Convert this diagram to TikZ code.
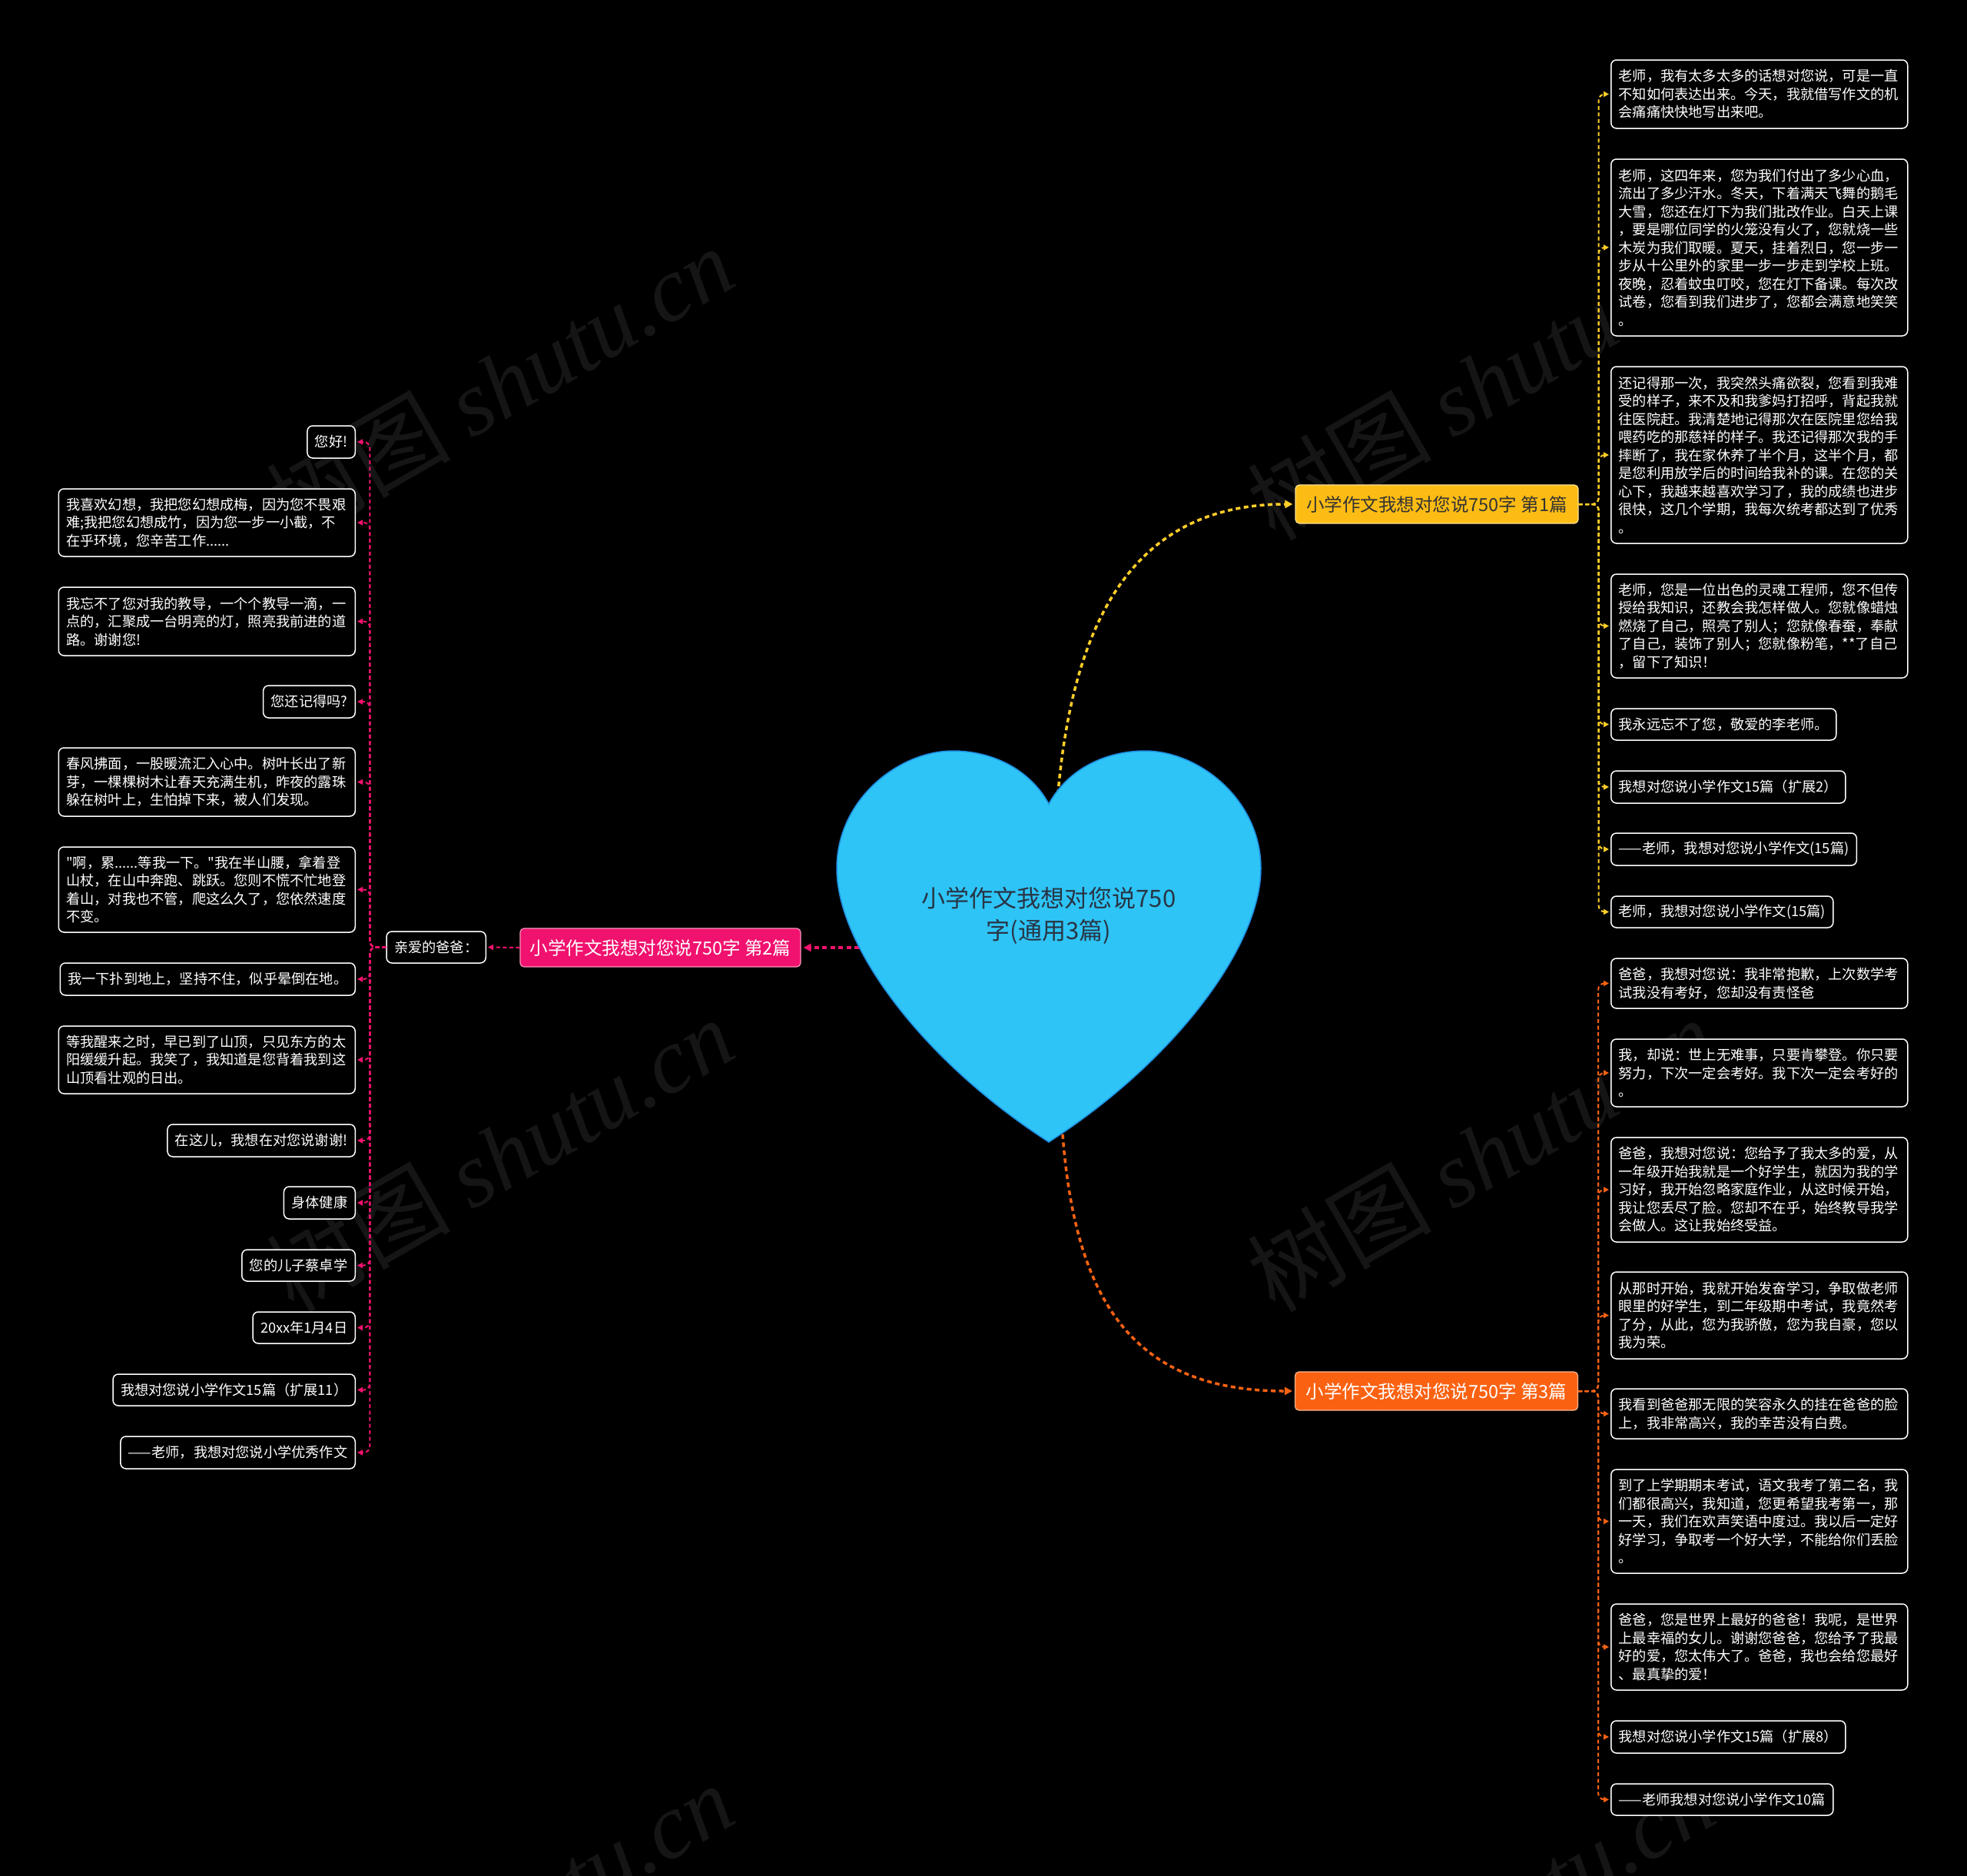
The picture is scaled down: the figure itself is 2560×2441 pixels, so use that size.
\documentclass[tikz,border=0pt]{standalone}
\usepackage{fontspec}
\setmainfont{Noto Sans CJK SC}
\newfontfamily\qf{Noto Sans CJK SC}
\newfontfamily\wmlatin{Liberation Serif}
\usetikzlibrary{arrows.meta}
\definecolor{yfill}{RGB}{252,188,20}
\definecolor{yline}{RGB}{255,206,40}
\definecolor{pk}{RGB}{240,18,110}
\definecolor{orng}{RGB}{250,98,18}
\definecolor{heartfill}{RGB}{46,196,246}
\definecolor{heartline}{RGB}{30,140,225}
\definecolor{hearttext}{RGB}{40,52,68}
\definecolor{wmgray}{RGB}{21,21,21}
\begin{document}
\begin{tikzpicture}[x=1pt,y=-1pt,
  leaf/.style={draw=white, line width=1.5pt, fill=black, rounded corners=7pt, text=white,
    font=\fontsize{18.2}{23.5}\selectfont, inner xsep=10pt, inner ysep=2pt, align=left},
  wide/.style={text width=366pt},
  branch/.style={rounded corners=5pt, minimum height=50pt, minimum width=368pt, inner sep=0pt,
    font=\fontsize{23.5}{28}\selectfont, line width=1.2pt},
  conn/.style={line width=2pt, dash pattern=on 5pt off 3.5pt, rounded corners=8pt,
    -{Triangle[length=7pt,width=7pt]}, shorten >=2pt},
  mainconn/.style={line width=3.5pt, dash pattern=on 6pt off 4.5pt,
    -{Triangle[length=10pt,width=10pt]}, shorten >=3pt},
  wm/.style={rotate=30, text=wmgray, font=\fontsize{120}{120}\selectfont, inner sep=0pt}
]
\fill[black] (0,0) rectangle (2560,2441);
\useasboundingbox (0,0) rectangle (2560,2441);

% watermarks
\node[wm] (wm1) at (650,498) {树图 {\wmlatin\itshape shutu.cn}};
\node[wm] (wm2) at (650,1502) {树图 {\wmlatin\itshape shutu.cn}};
\node[wm] (wm3) at (650,2498) {树图 {\wmlatin\itshape shutu.cn}};
\node[wm] (wm4) at (1927,498) {树图 {\wmlatin\itshape shutu.cn}};
\node[wm] (wm5) at (1927,1502) {树图 {\wmlatin\itshape shutu.cn}};
\node[wm] (wm6) at (1927,2498) {树图 {\wmlatin\itshape shutu.cn}};

% heart anchor coordinates
\coordinate (hnotch) at (1376,1044);
\coordinate (hleft) at (1118,1233);
\coordinate (htip) at (1383,1476);

% branch nodes
\node[branch, fill=yfill, draw=white!55!yfill, text=black!80] (b1) at (1870,656) {小学作文我想对您说750字 第1篇};
\node[branch, fill=pk, draw=white!55!pk, text=white, minimum width=365pt] (b2) at (859.5,1233) {小学作文我想对您说750字 第2篇};
\node[branch, fill=orng, draw=white!55!orng, text=white] (b3) at (1869.5,1810) {小学作文我想对您说750字 第3篇};
\node[leaf, minimum height=41pt, anchor=east] (dad) at (633,1232.5) {亲爱的爸爸：};

% right yellow children
\node[leaf, wide, minimum height=89pt, anchor=west] (r1) at (2096,122.5) {老师，我有太多太多的话想对您说，可是一直\\不知如何表达出来。今天，我就借写作文的机\\会痛痛快快地写出来吧。};
\node[leaf, wide, minimum height=230pt, anchor=west] (r2) at (2096,322) {老师，这四年来，您为我们付出了多少心血，\\流出了多少汗水。冬天，下着满天飞舞的鹅毛\\大雪，您还在灯下为我们批改作业。白天上课\\，要是哪位同学的火笼没有火了，您就烧一些\\木炭为我们取暖。夏天，挂着烈日，您一步一\\步从十公里外的家里一步一步走到学校上班。\\夜晚，忍着蚊虫叮咬，您在灯下备课。每次改\\试卷，您看到我们进步了，您都会满意地笑笑\\。};
\node[leaf, wide, minimum height=230pt, anchor=west] (r3) at (2096,592) {还记得那一次，我突然头痛欲裂，您看到我难\\受的样子，来不及和我爹妈打招呼，背起我就\\往医院赶。我清楚地记得那次在医院里您给我\\喂药吃的那慈祥的样子。我还记得那次我的手\\摔断了，我在家休养了半个月，这半个月，都\\是您利用放学后的时间给我补的课。在您的关\\心下，我越来越喜欢学习了，我的成绩也进步\\很快，这几个学期，我每次统考都达到了优秀\\。};
\node[leaf, wide, minimum height=135pt, anchor=west] (r4) at (2096,814.5) {老师，您是一位出色的灵魂工程师，您不但传\\授给我知识，还教会我怎样做人。您就像蜡烛\\燃烧了自己，照亮了别人；您就像春蚕，奉献\\了自己，装饰了别人；您就像粉笔，**了自己\\，留下了知识！};
\node[leaf, minimum height=41pt, anchor=west] (r5) at (2096,942.5) {我永远忘不了您，敬爱的李老师。};
\node[leaf, minimum height=42pt, anchor=west] (r6) at (2096,1024) {我想对您说小学作文15篇（扩展2）};
\node[leaf, minimum height=42pt, anchor=west] (r7) at (2096,1105) {——老师，我想对您说小学作文(15篇)};
\node[leaf, minimum height=41pt, anchor=west] (r8) at (2096,1186.5) {老师，我想对您说小学作文(15篇)};

% right orange children
\node[leaf, wide, minimum height=65pt, anchor=west] (o1) at (2096,1279.5) {爸爸，我想对您说：我非常抱歉，上次数学考\\试我没有考好，您却没有责怪爸};
\node[leaf, wide, minimum height=88pt, anchor=west] (o2) at (2096,1396) {我，却说：世上无难事，只要肯攀登。你只要\\努力，下次一定会考好。我下次一定会考好的\\。};
\node[leaf, wide, minimum height=136pt, anchor=west] (o3) at (2096,1548) {爸爸，我想对您说：您给予了我太多的爱，从\\一年级开始我就是一个好学生，就因为我的学\\习好，我开始忽略家庭作业，从这时候开始，\\我让您丢尽了脸。您却不在乎，始终教导我学\\会做人。这让我始终受益。};
\node[leaf, wide, minimum height=113pt, anchor=west] (o4) at (2096,1711.5) {从那时开始，我就开始发奋学习，争取做老师\\眼里的好学生，到二年级期中考试，我竟然考\\了分，从此，您为我骄傲，您为我自豪，您以\\我为荣。};
\node[leaf, wide, minimum height=65pt, anchor=west] (o5) at (2096,1839.5) {我看到爸爸那无限的笑容永久的挂在爸爸的脸\\上，我非常高兴，我的幸苦没有白费。};
\node[leaf, wide, minimum height=135pt, anchor=west] (o6) at (2096,1979.5) {到了上学期期末考试，语文我考了第二名，我\\们都很高兴，我知道，您更希望我考第一，那\\一天，我们在欢声笑语中度过。我以后一定好\\好学习，争取考一个好大学，不能给你们丢脸\\。};
\node[leaf, wide, minimum height=112pt, anchor=west] (o7) at (2096,2143) {爸爸，您是世界上最好的爸爸！我呢，是世界\\上最幸福的女儿。谢谢您爸爸，您给予了我最\\好的爱，您太伟大了。爸爸，我也会给您最好\\、最真挚的爱！};
\node[leaf, minimum height=42pt, anchor=west] (o8) at (2096,2260) {我想对您说小学作文15篇（扩展8）};
\node[leaf, minimum height=41pt, anchor=west] (o9) at (2096,2341.5) {——老师我想对您说小学作文10篇};

% left pink children
\node[leaf, minimum height=42pt, anchor=east] (l1) at (463,575) {您好!};
\node[leaf, wide, minimum height=88pt, anchor=east] (l2) at (463,680) {我喜欢幻想，我把您幻想成梅，因为您不畏艰\\难;我把您幻想成竹，因为您一步一小截，不\\在乎环境，您辛苦工作......};
\node[leaf, wide, minimum height=89pt, anchor=east] (l3) at (463,808.5) {我忘不了您对我的教导，一个个教导一滴，一\\点的，汇聚成一台明亮的灯，照亮我前进的道\\路。谢谢您!};
\node[leaf, minimum height=42pt, anchor=east] (l4) at (463,913) {您还记得吗?};
\node[leaf, wide, minimum height=89pt, anchor=east] (l5) at (463,1017.5) {春风拂面，一股暖流汇入心中。树叶长出了新\\芽，一棵棵树木让春天充满生机，昨夜的露珠\\躲在树叶上，生怕掉下来，被人们发现。};
\node[leaf, wide, minimum height=111pt, anchor=east] (l6) at (463,1157.5) {{\qf"}啊，累......等我一下。{\qf"}我在半山腰，拿着登\\山杖，在山中奔跑、跳跃。您则不慌不忙地登\\着山，对我也不管，爬这么久了，您依然速度\\不变。};
\node[leaf, minimum height=42pt, anchor=east] (l7) at (463,1274) {我一下扑到地上，坚持不住，似乎晕倒在地。};
\node[leaf, wide, minimum height=88pt, anchor=east] (l8) at (463,1379) {等我醒来之时，早已到了山顶，只见东方的太\\阳缓缓升起。我笑了，我知道是您背着我到这\\山顶看壮观的日出。};
\node[leaf, minimum height=42pt, anchor=east] (l9) at (463,1484) {在这儿，我想在对您说谢谢!};
\node[leaf, minimum height=42pt, anchor=east] (l10) at (463,1565) {身体健康};
\node[leaf, minimum height=41pt, anchor=east] (l11) at (463,1646.5) {您的儿子蔡卓学};
\node[leaf, minimum height=41pt, anchor=east] (l12) at (463,1727.5) {20xx年1月4日};
\node[leaf, minimum height=41pt, anchor=east] (l13) at (463,1808.5) {我想对您说小学作文15篇（扩展11）};
\node[leaf, minimum height=42pt, anchor=east] (l14) at (463,1890) {——老师，我想对您说小学优秀作文};

% child connectors
\foreach \c in {r1,r2,r3,r4,r5,r6,r7,r8}
  \draw[conn, yline] (b1.east) -- ++(26,0) |- (\c.west);
\foreach \c in {o1,o2,o3,o4,o5,o6,o7,o8,o9}
  \draw[conn, orng] (b3.east) -- ++(26,0) |- (\c.west);
\foreach \c in {l1,l2,l3,l4,l5,l6,l7,l8,l9,l10,l11,l12,l13,l14}
  \draw[conn, pk] (dad.west) -- ++(-21,0) |- (\c.east);
\draw[conn, pk] (b2.west) -- (dad.east);

% main connectors
\draw[mainconn, yline] (hnotch) .. controls (1395,800) and (1480,656) .. (b1.west);
\draw[mainconn, pk] (hleft) -- (b2.east);
\draw[mainconn, orng] (htip) .. controls (1400,1700) and (1480,1810) .. (b3.west);

% heart
\filldraw[fill=heartfill, draw=heartline, line width=1.5pt]
  (1365,1046) .. controls (1340,1000) and (1290,977) .. (1240,977)
  .. controls (1170,977) and (1089,1040) .. (1089,1130)
  .. controls (1089,1230) and (1200,1380) .. (1365,1486)
  .. controls (1530,1380) and (1641,1230) .. (1641,1130)
  .. controls (1641,1040) and (1560,977) .. (1490,977)
  .. controls (1440,977) and (1390,1000) .. (1365,1046) -- cycle;
\node[align=center, text=hearttext, font=\fontsize{31}{42}\selectfont] (center) at (1365,1191) {小学作文我想对您说750\\字(通用3篇)};
\end{tikzpicture}
\end{document}
